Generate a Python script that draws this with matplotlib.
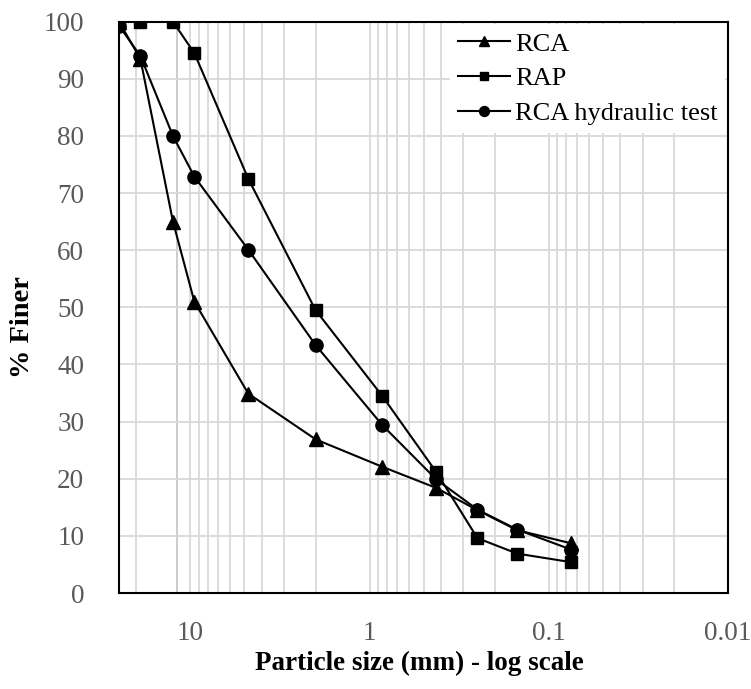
import numpy as np
import matplotlib
matplotlib.use('Agg')
import matplotlib.pyplot as plt
from matplotlib.ticker import LogLocator, NullFormatter, FixedLocator, FixedFormatter

# sieve sizes (mm) and % finer
size_mm = [25, 19, 12.5, 9.5, 4.75, 2.0, 0.85, 0.425, 0.25, 0.15, 0.075]
rca = [100, 93.5, 65.0, 51.0, 34.9, 26.9, 22.1, 18.4, 14.5, 11.0, 8.7]
rap = [100, 100, 100, 94.5, 72.5, 49.5, 34.5, 21.2, 9.6, 6.9, 5.4]
rca_hyd = [99.3, 94.0, 80.0, 72.9, 60.1, 43.4, 29.4, 19.9, 14.6, 11.1, 7.6]

x_ticks = [10, 1, 0.1, 0.01]
x_tick_labels = ['10', '1', '0.1', '0.01']
y_ticks = list(range(0, 101, 10))

plt.rcParams['font.family'] = ['Liberation Serif', 'DejaVu Serif']

fig = plt.figure(figsize=(7.51, 6.89), dpi=100)
ax = fig.add_axes([0.1585, 0.1393, 0.9694 - 0.1585, 0.9685 - 0.1393])

grid_c = '#d9d9d9'
ax.plot(size_mm, rca, color='black', lw=1.5, marker='^', ms=10, label='RCA', zorder=3)
ax.plot(size_mm, rap, color='black', lw=1.5, marker='s', ms=8.5, label='RAP', zorder=3)
ax.plot(size_mm, rca_hyd, color='black', lw=1.5, marker='o', ms=9.5, label='RCA hydraulic test', zorder=3)

ax.set_xscale('log')
ax.set_xlim(25, 0.01)
ax.set_ylim(0, 100)

ax.xaxis.set_major_locator(FixedLocator(x_ticks))
ax.xaxis.set_major_formatter(FixedFormatter(x_tick_labels))
ax.xaxis.set_minor_locator(LogLocator(base=10, subs=np.arange(2, 10)))
ax.xaxis.set_minor_formatter(NullFormatter())
ax.set_yticks(y_ticks)

ax.grid(True, which='both', axis='x', color=grid_c, lw=1.3, zorder=0)
ax.grid(True, which='major', axis='y', color=grid_c, lw=1.3, zorder=0)
ax.axvline(11.9, color='#c8c8c8', lw=1.3, zorder=0)
ax.set_axisbelow(True)

ax.tick_params(which='both', length=0)
ax.tick_params(axis='x', pad=20, labelsize=19.5, labelcolor='#595959')
ax.tick_params(axis='y', pad=25, labelsize=19.5, labelcolor='#595959')

for s in ax.spines.values():
    s.set_color('black')
    s.set_linewidth(1.5)
    s.set_zorder(5)

ax.set_xlabel('Particle size (mm) - log scale', fontsize=19.5, fontweight='bold', va='center')
ax.xaxis.set_label_coords(0.494, -0.1225)
ax.set_ylabel('% Finer', fontsize=20.5, fontweight='bold', va='center')
ax.yaxis.set_label_coords(-0.159, 0.466)

leg = ax.legend(loc='upper right', fontsize=19, frameon=True, facecolor='white',
                edgecolor='none', framealpha=1, fancybox=False, borderaxespad=0.1,
                handlelength=1.95, handletextpad=0.2, labelspacing=0.42,
                borderpad=0.3, markerscale=0.75)
leg.set_zorder(4)

fig.savefig('out.png', dpi=100)
